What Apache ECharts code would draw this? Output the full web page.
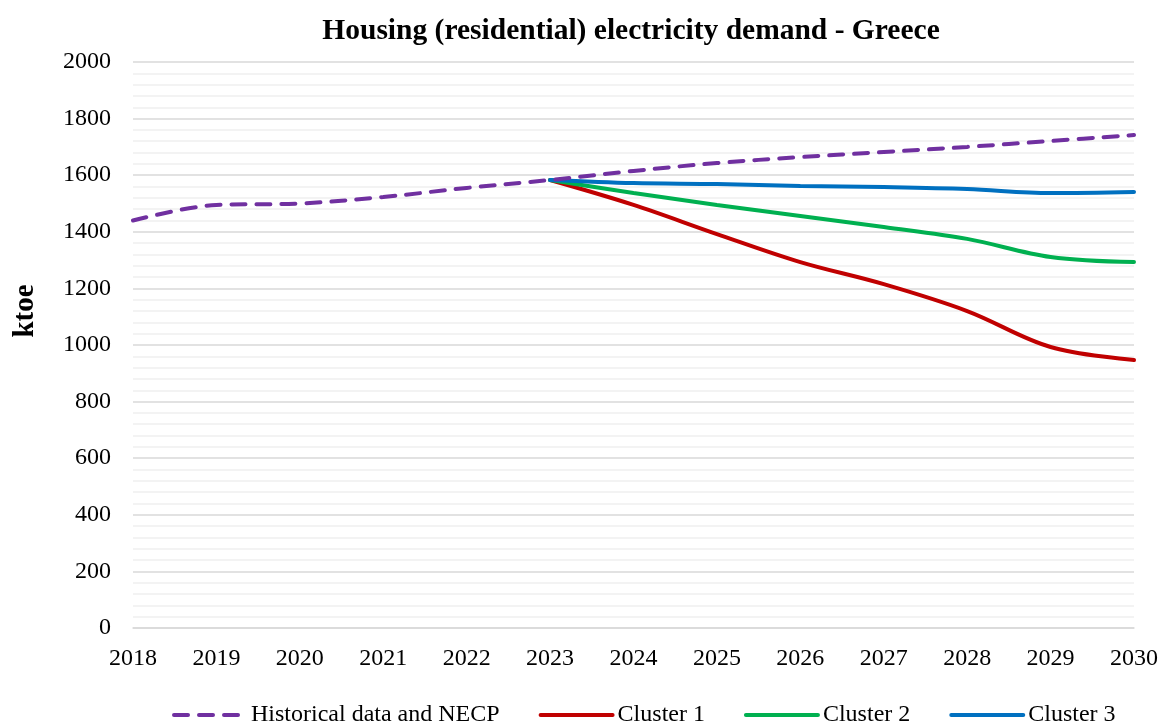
<!DOCTYPE html>
<html>
<head>
<meta charset="utf-8">
<script src="https://cdn.jsdelivr.net/npm/echarts@6/dist/echarts.min.js"></script>
<style>
  html, body { margin: 0; padding: 0; background: #fff; }
  #chart { width: 1161px; height: 724px; }
</style>
</head>
<body>
<div id="chart"></div>
<script>
// Years on the horizontal axis
const years = ['2018','2019','2020','2021','2022','2023','2024','2025','2026','2027','2028','2029','2030'];

// Residential electricity demand, ktoe
const historicalNecp = [1440, 1495, 1500, 1523, 1555, 1583, 1615, 1643, 1664, 1682, 1700, 1721, 1742];
const cluster1 = ['-', '-', '-', '-', '-', 1583, 1495, 1392, 1293, 1215, 1120, 993, 947];
const cluster2 = ['-', '-', '-', '-', '-', 1583, 1537, 1495, 1456, 1417, 1375, 1311, 1293];
const cluster3 = ['-', '-', '-', '-', '-', 1583, 1572, 1569, 1562, 1558, 1551, 1537, 1541];

const seriesNames = ['Historical data and NECP', 'Cluster 1', 'Cluster 2', 'Cluster 3'];
const seriesColors = ['#7030a0', '#c00000', '#00b050', '#0070c0'];

const font = '"Liberation Serif", "Times New Roman", serif';

const chart = echarts.init(document.getElementById('chart'));

function lineSeries(name, data, color, dashed) {
  return {
    name: name,
    type: 'line',
    data: data,
    smooth: 0.35,
    symbol: 'none',
    color: color,
    lineStyle: { color: color, width: 4, type: dashed ? [14, 11] : 'solid', cap: 'round' },
    z: dashed ? 3 : 2
  };
}

chart.setOption({
  animation: false,
  backgroundColor: '#ffffff',
  textStyle: { fontFamily: font },
  title: {
    text: 'Housing (residential) electricity demand - Greece',
    left: 626, top: 11, textAlign: 'center',
    textStyle: { fontFamily: font, fontSize: 29.5, fontWeight: 'bold', color: '#000' }
  },
  // vertical unit label beside the value axis
  graphic: [{
    type: 'text',
    x: 26, y: 311,
    rotation: Math.PI / 2,
    style: {
      text: 'ktoe',
      fontFamily: font, fontSize: 29, fontWeight: 'bold', fill: '#000',
      align: 'center', verticalAlign: 'middle'
    }
  }],
  grid: { left: 133, right: 26, top: 62, bottom: 96 },
  legend: {
    bottom: -8, left: 167,
    itemWidth: 72, itemHeight: 14, itemGap: 39,
    itemStyle: { opacity: 0 },
    lineStyle: { width: 4 },
    textStyle: { fontFamily: font, fontSize: 24, color: '#000' },
    data: seriesNames
  },
  xAxis: {
    type: 'category',
    data: years,
    boundaryGap: false,
    axisLine: { show: true, lineStyle: { color: '#d9d9d9', width: 1.5 } },
    axisTick: { show: false },
    axisLabel: { fontFamily: font, fontSize: 24, color: '#000', margin: 19 },
    splitLine: { show: false }
  },
  yAxis: {
    type: 'value',
    min: 0, max: 2000, interval: 200,
    axisLine: { show: false },
    axisTick: { show: false },
    axisLabel: { fontFamily: font, fontSize: 24, color: '#000', margin: 22, formatter: function (v) { return String(v); } },
    splitLine: { show: true, lineStyle: { color: '#d9d9d9', width: 1.5 } },
    minorTick: { show: false, splitNumber: 5 },
    minorSplitLine: { show: true, lineStyle: { color: '#f0f0f0', width: 1.5 } }
  },
  series: [
    lineSeries(seriesNames[0], historicalNecp, seriesColors[0], true),
    lineSeries(seriesNames[1], cluster1, seriesColors[1], false),
    lineSeries(seriesNames[2], cluster2, seriesColors[2], false),
    lineSeries(seriesNames[3], cluster3, seriesColors[3], false)
  ]
});
</script>
</body>
</html>
